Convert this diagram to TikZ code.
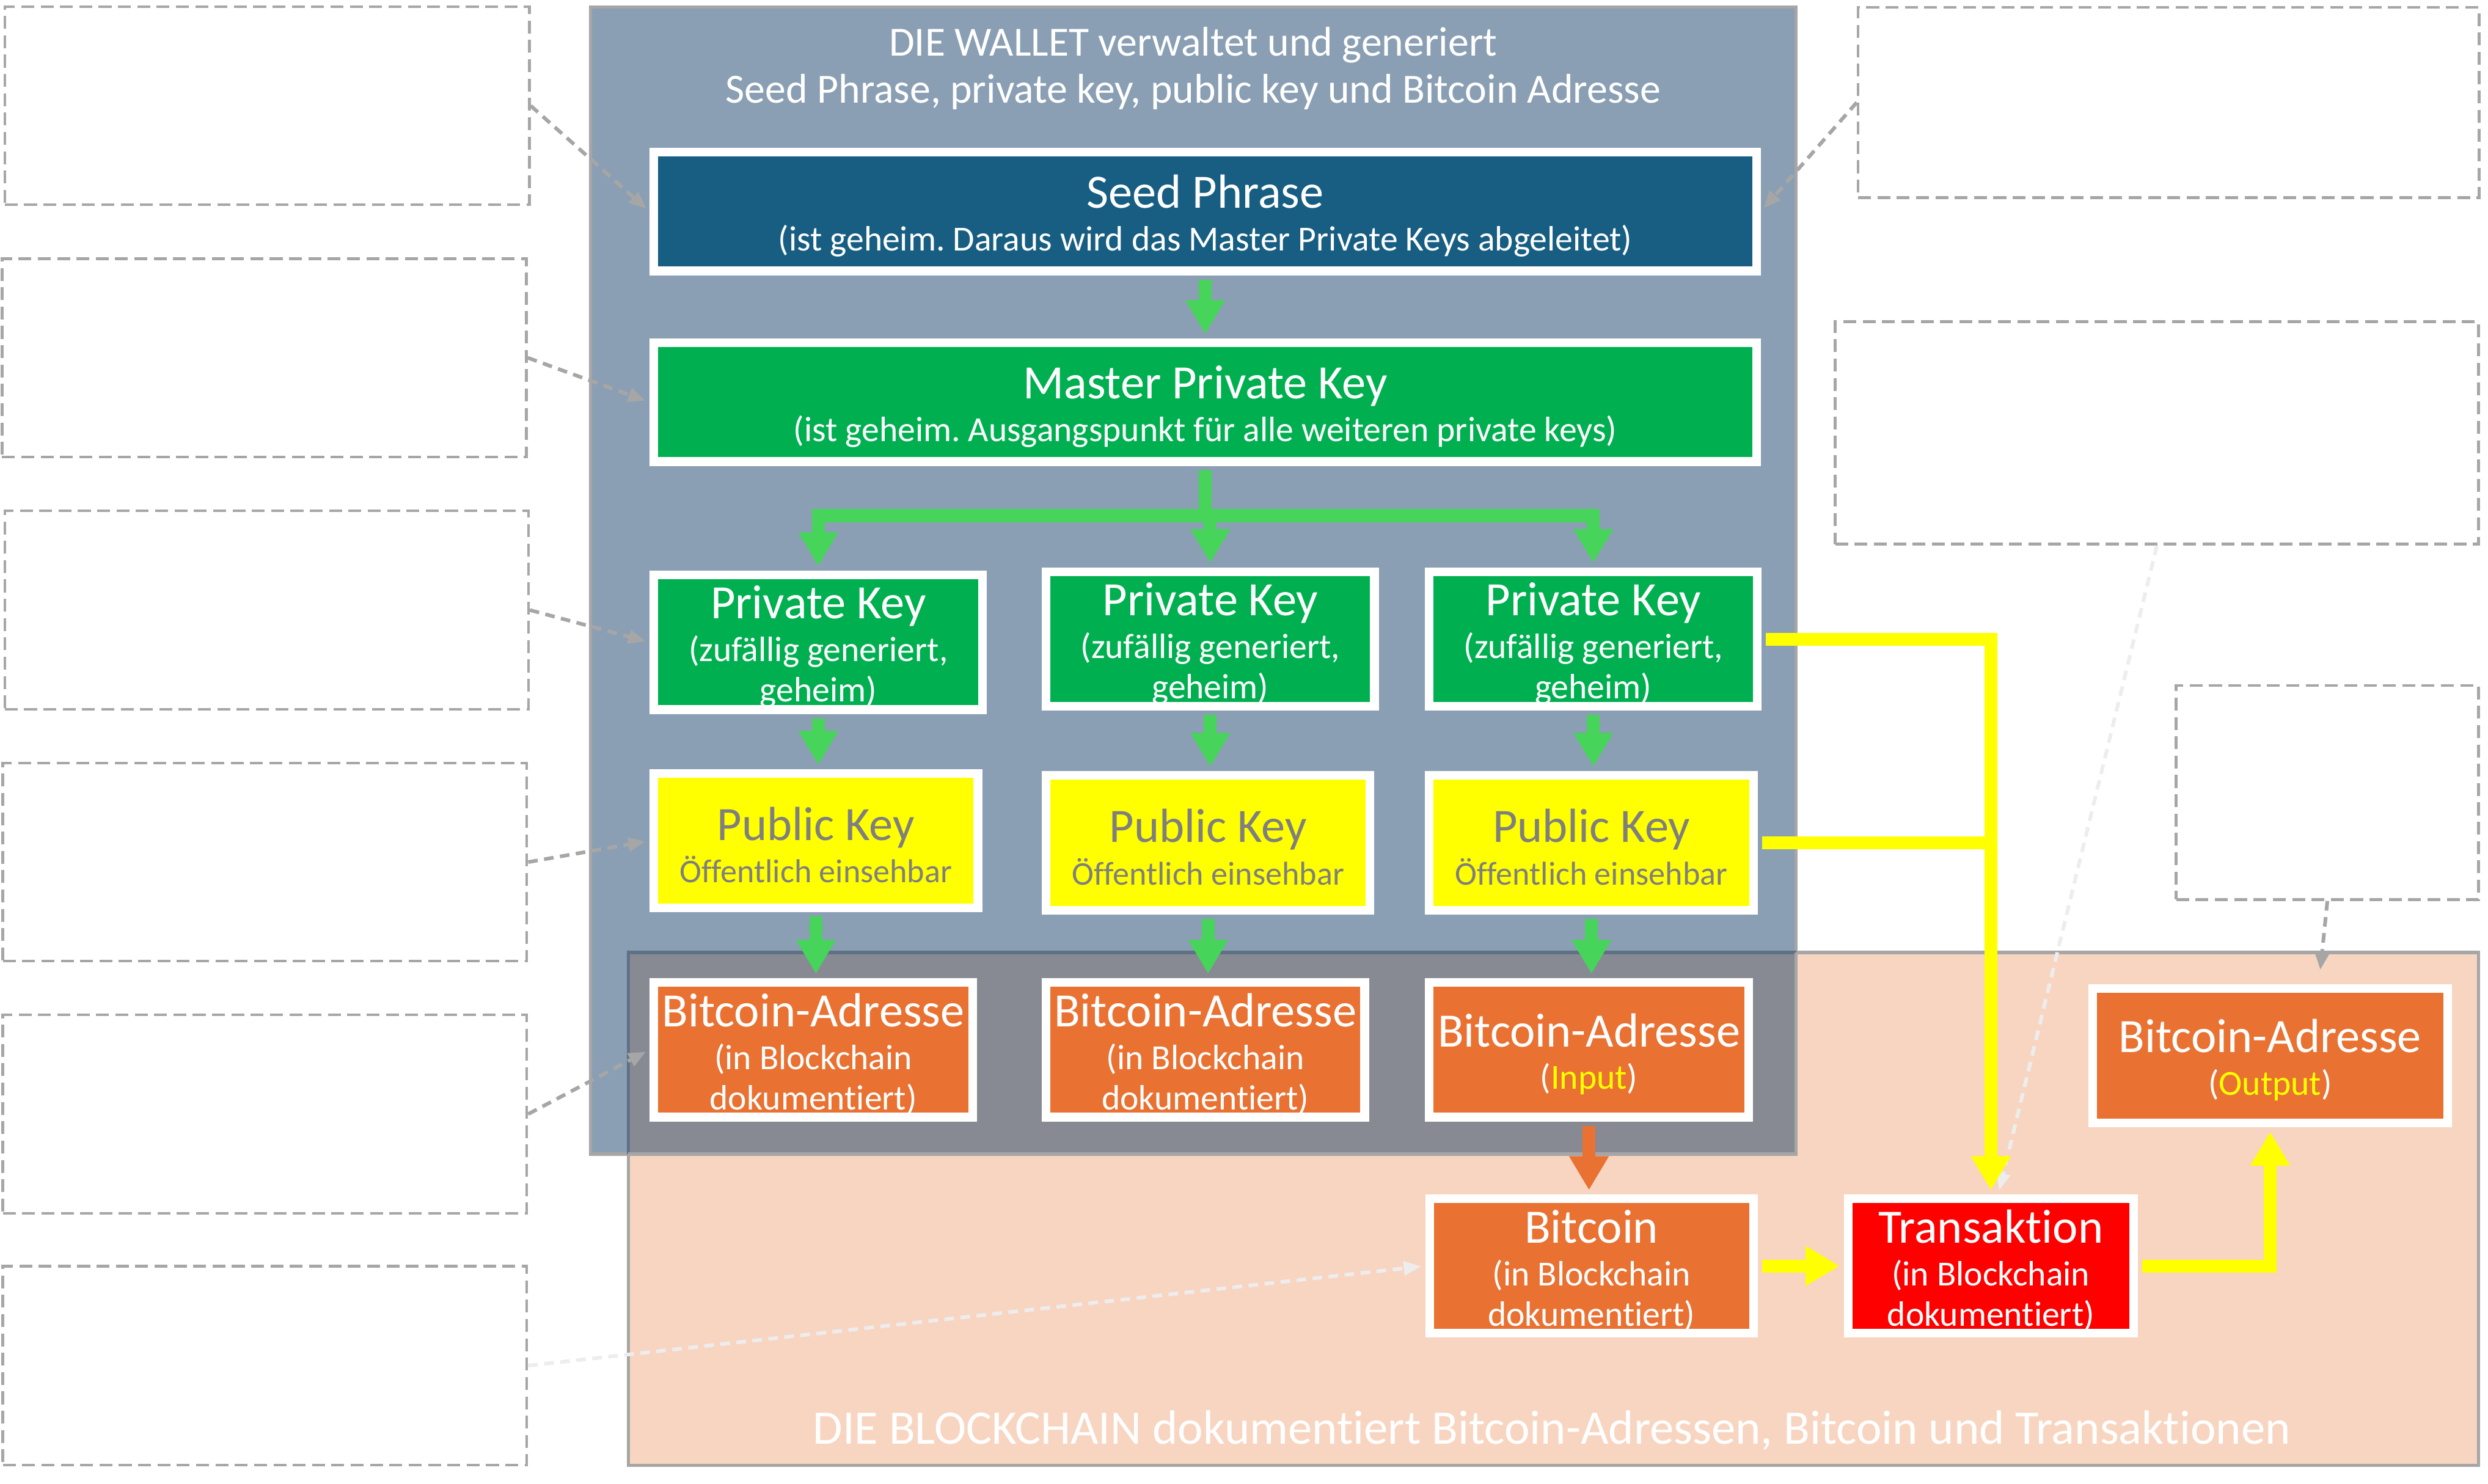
\documentclass[tikz,border=0pt]{standalone}
\usepackage{fontspec}
\setmainfont{Carlito}[Ligatures=NoCommon]
\frenchspacing
\usetikzlibrary{arrows.meta}
\definecolor{walletbg}{HTML}{8A9FB3}
\definecolor{chainbg}{HTML}{F8D5C1}
\definecolor{overlapbg}{HTML}{878A93}
\definecolor{darkedge}{HTML}{5E7185}
\definecolor{edgegray}{HTML}{A6A6A6}
\definecolor{seedblue}{HTML}{175E82}
\definecolor{kgreen}{HTML}{00B050}
\definecolor{agreen}{HTML}{47D45A}
\definecolor{kyellow}{HTML}{FFFF00}
\definecolor{korange}{HTML}{E97132}
\definecolor{kred}{HTML}{FF0000}
\definecolor{pubgray}{HTML}{7F7F7F}
\definecolor{lightdash}{HTML}{EDEDED}
\newcommand{\fA}{\fontsize{22.3}{26}\selectfont\rule{0pt}{19.5pt}}
\newcommand{\fB}{\fontsize{16.4}{18.8}\selectfont}
\newcommand{\fP}{\fontsize{15.4}{18.8}\selectfont}
\newcommand{\fW}{\fontsize{19.3}{21.8}\selectfont}
\newcommand{\fC}{\fontsize{22.4}{26}\selectfont}
\newcommand{\mkbox}[7]{\node[keybox,#6,minimum width={(#4-#2-5.5)*0.2597mm},minimum height={(#5-#3-5.5)*0.2597mm}] (#1) at ({(#2+#4)/2},{(#3+#5)/2}) {#7};}
\newcommand{\mkdbox}[5]{\node[notebox,minimum width={(#4-#2)*0.2597mm},minimum height={(#5-#3)*0.2597mm}] (#1) at ({(#2+#4)/2},{(#3+#5)/2}) {};}
\begin{document}
\begin{tikzpicture}[x=0.2597mm, y=-0.2597mm,
  keybox/.style={draw=white, line width=4.06pt, inner sep=0pt, align=center, text=white, font=\fB},
  notebox/.style={draw=edgegray, line width=1.3pt, dash pattern=on 6pt off 3pt, fill=white, inner sep=0pt},
  flow/.style={line width=6pt, shorten <=2pt, shorten >=2pt, -{Triangle[length=15.8pt,width=17.4pt]}},
  gflow/.style={flow, draw=agreen},
  yflow/.style={flow, draw=kyellow},
  oflow/.style={flow, draw=korange},
  hint/.style={draw=edgegray, line width=1.7pt, dash pattern=on 4.5pt off 3pt, shorten >=2pt, -{Triangle[length=8pt,width=6.5pt]}},
  lhint/.style={hint, draw=lightdash}]
\useasboundingbox (0,0) rectangle (1568,935.33);
% containers
\draw[fill=chainbg, draw=edgegray, line width=1.5pt] (396,600.3) rectangle (1562,923.7);
\draw[fill=walletbg, draw=edgegray, line width=1.5pt] (372.2,4.3) rectangle (1131.9,727.4);
\fill[overlapbg] (396,600.3) rectangle (1131.9,727.4);
\draw[darkedge, line width=1.5pt] (396,727.4) -- (396,600.3) -- (1131.9,600.3);
\draw[edgegray, line width=1.5pt] (1131.9,600.3) -- (1131.9,727.4) -- (396,727.4);
\node[font=\fW, text=white, align=center, inner sep=0pt] (wtitle) at (752,43) {DIE WALLET verwaltet und generiert\\Seed Phrase, private key, public key und Bitcoin Adresse};
\node[font=\fC, text=white, inner sep=0pt] (ctitle) at (978,901.5) {DIE BLOCKCHAIN dokumentiert Bitcoin-Adressen, Bitcoin und Transaktionen};
% note boxes
\mkdbox{L1}{3}{4.3}{333.6}{129}
\mkdbox{L2}{1.3}{163}{331.7}{288}
\mkdbox{L3}{3}{322}{333}{447}
\mkdbox{L4}{1.8}{481}{332}{605.7}
\mkdbox{L5}{1.8}{639.6}{332}{764.7}
\mkdbox{L6}{1.8}{798}{332}{923.4}
\mkdbox{R1}{1171}{4.7}{1562.3}{124.5}
\mkdbox{R2}{1156.6}{202.7}{1562}{343}
\mkdbox{R3}{1371.5}{432}{1562}{567}
% key boxes
\mkbox{seed}{409.3}{93.1}{1109.8}{173.5}{fill=seedblue}{\fA Seed Phrase\\[1pt]\fB (ist geheim. Daraus wird das Master Private Keys abgeleitet)}
\mkbox{master}{409.3}{213.3}{1109.8}{293.7}{fill=kgreen}{\fA Master Private Key\\[1pt]\fB (ist geheim. Ausgangspunkt für alle weiteren private keys)}
\mkbox{pk1}{409.4}{359.6}{622}{450}{fill=kgreen}{\fA Private Key\\[1pt]\fB (zufällig generiert,\\\fB geheim)}
\mkbox{pk2}{656.5}{357.6}{869}{448}{fill=kgreen}{\fA Private Key\\[1pt]\fB (zufällig generiert,\\\fB geheim)}
\mkbox{pk3}{898}{357.6}{1110.3}{448}{fill=kgreen}{\fA Private Key\\[1pt]\fB (zufällig generiert,\\\fB geheim)}
\mkbox{pub1}{409.4}{484.8}{619}{575}{fill=kyellow,text=pubgray}{\fA Public Key\\[1pt]\fP Öffentlich einsehbar}
\mkbox{pub2}{656.5}{486}{866.2}{576.4}{fill=kyellow,text=pubgray}{\fA Public Key\\[1pt]\fP Öffentlich einsehbar}
\mkbox{pub3}{898}{486}{1107.9}{576.4}{fill=kyellow,text=pubgray}{\fA Public Key\\[1pt]\fP Öffentlich einsehbar}
\mkbox{ba1}{409.4}{616.5}{615.7}{706.8}{fill=korange}{\fA Bitcoin-Adresse\\[1pt]\fB (in Blockchain\\\fB dokumentiert)}
\mkbox{ba2}{656.5}{616.5}{862.8}{706.8}{fill=korange}{\fA Bitcoin-Adresse\\[1pt]\fB (in Blockchain\\\fB dokumentiert)}
\mkbox{ba3}{898}{616.5}{1104.8}{706.8}{fill=korange}{\fA Bitcoin-Adresse\\[1pt]\fB (\textcolor{kyellow}{Input})}
\mkbox{outba}{1316}{620.3}{1545.4}{710.6}{fill=korange}{\fA Bitcoin-Adresse\\[1pt]\fB (\textcolor{kyellow}{Output})}
\mkbox{btc}{898.2}{752.8}{1107.8}{843}{fill=korange}{\fA Bitcoin\\[1pt]\fB (in Blockchain\\\fB dokumentiert)}
\mkbox{trans}{1162}{752.8}{1347.3}{843}{fill=kred}{\fA Transaktion\\[1pt]\fB (in Blockchain\\\fB dokumentiert)}
% hint connectors
\draw[hint] (L1.east) -- (seed.west);
\draw[hint] (L2.east) -- (master.west);
\draw[hint] (L3.east) -- (pk1.west);
\draw[hint] (L4.east) -- (pub1.west);
\draw[hint] (L5.east) -- (ba1.west);
\draw[lhint] (L6.east) -- (btc.west);
\draw[hint] (R1.west) -- (seed.east);
\draw[lhint] (R2.south) -- ([xshift=1.2mm]trans.north);
\draw[hint] (R3.south) -- ([xshift=8.13mm,yshift=1.65mm]outba.north);
% green flows
\draw[gflow] (seed.south) -- (master.north);
\coordinate (br) at (759.5,325);
\draw[agreen, line width=6pt, shorten <=2pt] (master.south) -- (br);
\draw[agreen, line width=6pt, line cap=rect] (br -| pk1.north) -- (br -| pk3.north);
\draw[gflow, shorten <=0pt] (br -| pk1.north) -- (pk1.north);
\draw[gflow, shorten <=0pt] (br -| pk2.north) -- (pk2.north);
\draw[gflow, shorten <=0pt] (br -| pk3.north) -- (pk3.north);
\draw[gflow] (pk1.south) -- (pk1.south |- pub1.north);
\draw[gflow] (pk2.south) -- (pk2.south |- pub2.north);
\draw[gflow] (pk3.south) -- (pk3.south |- pub3.north);
\draw[gflow] (pub1.south) -- (pub1.south |- ba1.north);
\draw[gflow] (pub2.south) -- (pub2.south |- ba2.north);
\draw[gflow] (pub3.south) -- (pub3.south |- ba3.north);
% orange and yellow flows
\draw[oflow] (ba3.south) -- (ba3.south |- btc.north);
\draw[kyellow, line width=6pt, shorten <=2pt] (pub3.east) -- (pub3.east -| trans.north);
\draw[yflow] (pk3.east) -- (pk3.east -| trans.north) -- (trans.north);
\draw[yflow] (btc.east) -- (trans.west);
\draw[yflow] (trans.east) -- (trans.east -| outba.south) -- (outba.south);
\end{tikzpicture}
\end{document}
